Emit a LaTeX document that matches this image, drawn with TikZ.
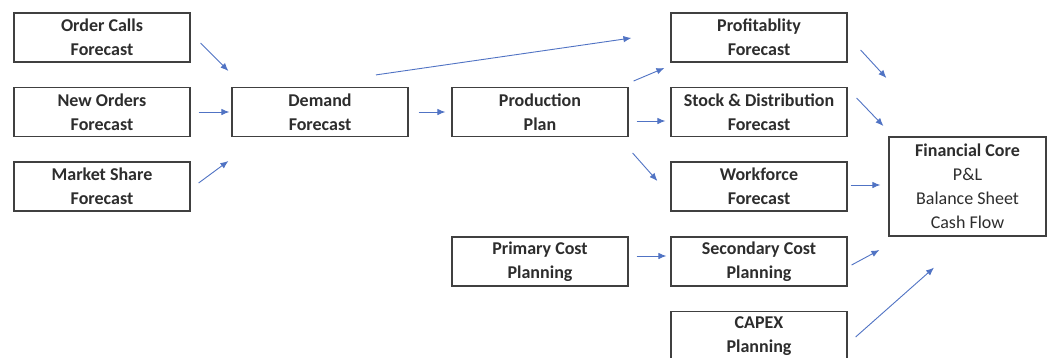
\documentclass[tikz,border=0pt]{standalone}
\usepackage{fontspec}
\setmainfont{Carlito}
\usetikzlibrary{arrows.meta}
\definecolor{boxline}{RGB}{64,64,64}
\definecolor{txt}{RGB}{45,45,45}
\definecolor{arrowblue}{RGB}{80,115,196}
\tikzset{
  box/.style={draw=boxline, line width=1.2pt, minimum width=176pt, minimum height=49pt,
    align=center, inner sep=0pt, text=txt, font=\bfseries\fontsize{18}{24}\selectfont},
  corebox/.style={draw=boxline, line width=1.2pt, minimum width=157pt, minimum height=99pt,
    align=center, inner sep=0pt, text=txt, font=\fontsize{18}{24}\selectfont},
  arr/.style={draw=arrowblue, line width=0.9pt, -{Latex[length=8pt,width=6.5pt]}}
}
\begin{document}
\begin{tikzpicture}[x=1pt,y=-1pt]
\clip (0,0) rectangle (1048,357);
\fill[white] (0,0) rectangle (1048,357);
% nodes
\node[box] (oc) at (102,37.5) {Order Calls\\Forecast};
\node[box] (no) at (102,112) {New Orders\\Forecast};
\node[box] (ms) at (102,186.5) {Market Share\\Forecast};
\node[box] (df) at (320,112) {Demand\\Forecast};
\node[box] (pp) at (540,112) {Production\\Plan};
\node[box] (pc) at (540,261.5) {Primary Cost\\Planning};
\node[box] (pf) at (759,37.5) {Profitablity\\Forecast};
\node[box] (sd) at (759,112) {Stock \& Distribution\\Forecast};
\node[box] (wf) at (759,186.5) {Workforce\\Forecast};
\node[box] (sc) at (759,261.5) {Secondary Cost\\Planning};
\node[box] (cx) at (759,336) {CAPEX\\Planning};
\node[corebox] (fc) at (967.5,186.5) {\textbf{Financial Core}\\P\&L\\Balance Sheet\\Cash Flow};
% arrow end points
\coordinate (a1s) at ([shift={(10,5.5)}]oc.east);
\coordinate (a1e) at ([shift={(-3,-41)}]df.west);
\coordinate (a2s) at ([shift={(8,0)}]no.east);
\coordinate (a2e) at ([shift={(-2,0)}]df.west);
\coordinate (a3s) at ([shift={(8,-3.5)}]ms.east);
\coordinate (a3e) at ([shift={(-3,49)}]df.west);
\coordinate (a4s) at ([shift={(56,-12)}]df.north);
\coordinate (a4e) at ([shift={(-39,0.5)}]pf.west);
\coordinate (a5s) at ([shift={(10,0)}]df.east);
\coordinate (a5e) at ([shift={(-6,0)}]pp.west);
\coordinate (a6s) at ([shift={(5,-31)}]pp.east);
\coordinate (a6e) at ([shift={(-6,30.5)}]pf.west);
\coordinate (a7s) at ([shift={(8,9)}]pp.east);
\coordinate (a7e) at ([shift={(-5,9)}]sd.west);
\coordinate (a8s) at ([shift={(4,41)}]pp.east);
\coordinate (a8e) at ([shift={(-13,-5.5)}]wf.west);
\coordinate (a9s) at ([shift={(8,-5.5)}]pc.east);
\coordinate (a9e) at ([shift={(-4,-5.5)}]sc.west);
\coordinate (a10s) at ([shift={(13,12.5)}]pf.east);
\coordinate (a10e) at ([shift={(-2,-108.5)}]fc.west);
\coordinate (a11s) at ([shift={(9,-14)}]sd.east);
\coordinate (a11e) at ([shift={(-5,-60.5)}]fc.west);
\coordinate (a12s) at ([shift={(3,-1.5)}]wf.east);
\coordinate (a12e) at ([shift={(-8,-1.5)}]fc.west);
\coordinate (a13s) at ([shift={(4,3.5)}]sc.east);
\coordinate (a13e) at ([shift={(-9,63.5)}]fc.west);
\coordinate (a14s) at ([shift={(8,1)}]cx.east);
\coordinate (a14e) at ([shift={(-33.5,31)}]fc.south);
% arrows
\draw[arr] (a1s) -- (a1e);
\draw[arr] (a2s) -- (a2e);
\draw[arr] (a3s) -- (a3e);
\draw[arr] (a4s) -- (a4e);
\draw[arr] (a5s) -- (a5e);
\draw[arr] (a6s) -- (a6e);
\draw[arr] (a7s) -- (a7e);
\draw[arr] (a8s) -- (a8e);
\draw[arr] (a9s) -- (a9e);
\draw[arr] (a10s) -- (a10e);
\draw[arr] (a11s) -- (a11e);
\draw[arr] (a12s) -- (a12e);
\draw[arr] (a13s) -- (a13e);
\draw[arr] (a14s) -- (a14e);
\end{tikzpicture}
\end{document}
